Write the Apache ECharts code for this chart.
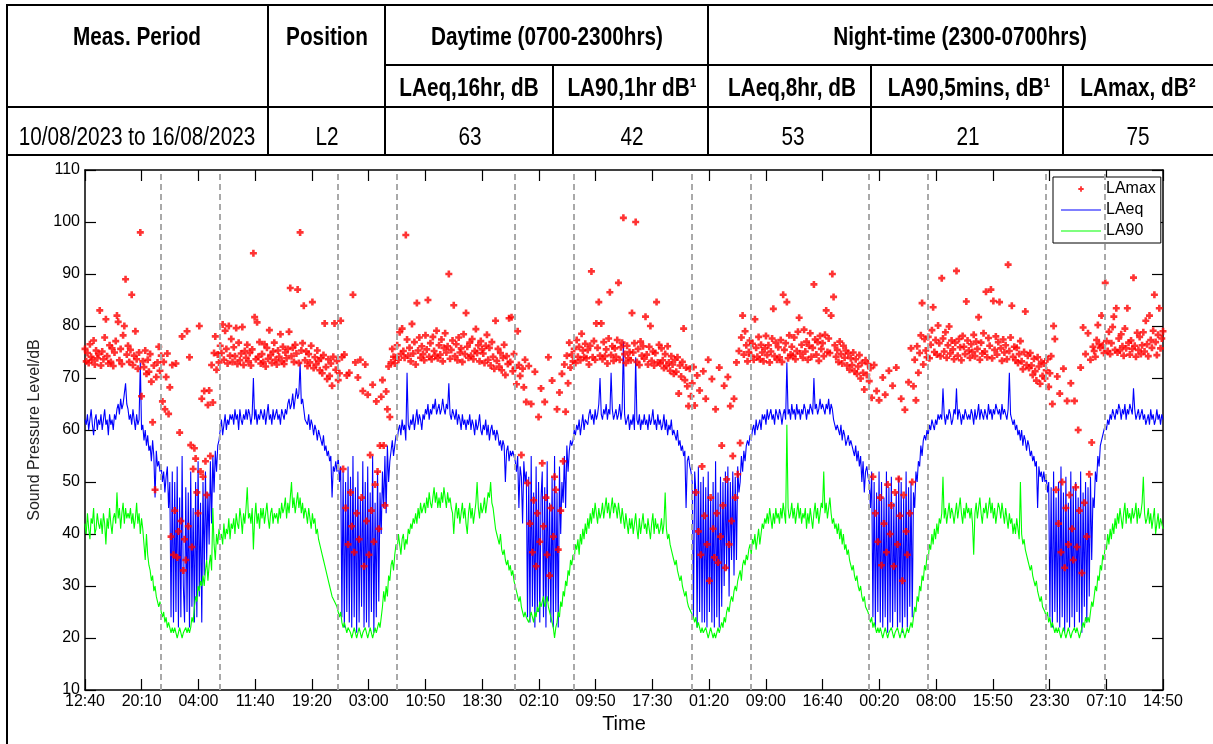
<!DOCTYPE html>
<html><head><meta charset="utf-8">
<script src="https://cdn.jsdelivr.net/npm/echarts@6.0.0/dist/echarts.min.js"></script>
<style>
html,body{margin:0;padding:0;background:#fff;width:1213px;height:744px;overflow:hidden;}
#wrap{position:relative;width:1213px;height:744px;}
#chart{position:absolute;left:0;top:0;width:1213px;height:744px;}
.ln{position:absolute;background:#000;}
.tx{position:absolute;white-space:nowrap;font-family:"Liberation Sans",Arial,sans-serif;font-size:25px;color:#000;transform:translate(-50%,-50%) scaleX(0.83);line-height:1;}
.b{font-weight:bold;}
</style></head><body>
<div id="wrap">
<div id="chart"></div>
<div class="ln" style="left:6px;top:4px;width:1207px;height:2px"></div>
<div class="ln" style="left:385px;top:64px;width:828px;height:2px"></div>
<div class="ln" style="left:6px;top:106px;width:1207px;height:2px"></div>
<div class="ln" style="left:6px;top:154px;width:1207px;height:2px"></div>
<div class="ln" style="left:6px;top:4px;width:2px;height:740px"></div>
<div class="ln" style="left:267px;top:4px;width:2px;height:152px"></div>
<div class="ln" style="left:384px;top:4px;width:2px;height:152px"></div>
<div class="ln" style="left:552px;top:65px;width:2px;height:91px"></div>
<div class="ln" style="left:707px;top:4px;width:2px;height:152px"></div>
<div class="ln" style="left:870px;top:65px;width:2px;height:91px"></div>
<div class="ln" style="left:1062px;top:65px;width:2px;height:91px"></div>
<div class="tx b" style="left:137px;top:36px">Meas. Period</div>
<div class="tx b" style="left:327px;top:36px">Position</div>
<div class="tx b" style="left:547px;top:36px">Daytime (0700-2300hrs)</div>
<div class="tx b" style="left:960px;top:36px">Night-time (2300-0700hrs)</div>
<div class="tx b" style="left:469px;top:87px">LAeq,16hr, dB</div>
<div class="tx b" style="left:632px;top:87px">LA90,1hr dB¹</div>
<div class="tx b" style="left:792px;top:87px">LAeq,8hr, dB</div>
<div class="tx b" style="left:969px;top:87px">LA90,5mins, dB¹</div>
<div class="tx b" style="left:1138px;top:87px">LAmax, dB²</div>
<div class="tx" style="left:137px;top:136px">10/08/2023 to 16/08/2023</div>
<div class="tx" style="left:327px;top:136px">L2</div>
<div class="tx" style="left:470px;top:136px">63</div>
<div class="tx" style="left:632px;top:136px">42</div>
<div class="tx" style="left:793px;top:136px">53</div>
<div class="tx" style="left:968px;top:136px">21</div>
<div class="tx" style="left:1138px;top:136px">75</div>
</div>
<script>
// x tick labels (20 evenly spaced ticks from 12:40 10/08 to 14:50 16/08)
const xTickLabels = ['12:40','20:10','04:00','11:40','19:20','03:00','10:50','18:30','02:10','09:50','17:30','01:20','09:00','16:40','00:20','08:00','15:50','23:30','07:10','14:50'];
const SPAN_MIN = 8770;      // minutes from 12:40 10/08 to 14:50 16/08
const STEP_MIN = 10;        // sample step of the series below
// night period boundaries (23:00 and 07:00), minutes from start
const nightStartMin = [620,2060,3500,4940,6380,7820];
const nightEndMin = [1100,2540,3980,5420,6860,8300];

// LAeq, one row = 2 hours (12 x 10-minute values), first row starts 12:40 10/08
const laeqRows = [
[62,61,63,60,62,64,61,59,62,63,60,62],
[61,63,60,62,64,61,62,59,63,61,62,60],
[63,62,64,65,63,66,64,65,67,69,65,64],
[62,63,61,64,62,60,63,61,62,73,60,61],
[58,60,57,59,56,57,54,58,55,47,56,53],
[54,52,53,50,52,48,51,53,45,50,24,52],
[23,50,25,53,22,47,24,55,30,23,49,25],
[48,22,52,26,45,23,50,24,54,28,46,23],
[50,32,52,35,48,38,54,42,55,48,56,52],
[57,58,60,62,59,61,63,60,62,61,63,62],
[63,61,64,62,63,60,64,62,61,63,62,64],
[62,64,63,61,63,70,62,64,61,63,62,64],
[63,62,64,61,63,65,62,63,61,64,62,63],
[64,62,63,61,64,63,62,64,63,65,66,64],
[65,67,64,66,68,66,67,73,65,66,64,62],
[62,61,63,60,62,61,59,61,60,58,60,59],
[58,57,59,56,57,55,56,54,55,47,53,52],
[54,52,55,50,53,24,52,22,50,25,53,23],
[51,22,55,24,49,21,52,23,47,26,54,22],
[50,23,53,22,48,25,55,21,46,24,52,27],
[48,40,52,45,55,44,57,50,54,56,58,55],
[57,59,58,60,61,59,62,60,61,58,71,61],
[60,62,61,63,60,62,64,61,63,62,60,63],
[62,64,63,65,62,64,63,65,64,66,63,64],
[65,63,64,66,64,63,65,64,69,63,62,64],
[63,62,64,61,63,62,60,63,61,62,60,62],
[61,63,60,62,61,59,62,60,61,63,60,59],
[61,60,62,59,61,58,60,61,59,60,58,60],
[59,57,58,56,58,57,50,56,57,54,56,55],
[56,55,54,52,55,45,53,51,42,54,50,52],
[24,51,23,55,26,48,22,53,25,50,23,47],
[52,24,49,22,54,27,46,23,51,22,55,25],
[48,22,53,40,50,46,55,45,57,52,56,58],
[57,58,60,59,61,60,62,59,61,63,60,62],
[62,61,63,64,62,63,61,64,62,63,65,70],
[63,62,64,63,65,62,64,63,71,64,62,63],
[64,62,63,65,62,64,77,63,61,62,63,60],
[62,61,63,60,74,62,61,63,60,62,61,63],
[61,62,60,63,61,62,64,61,62,60,63,61],
[62,60,61,63,60,62,59,61,60,62,59,60],
[59,58,60,57,58,56,57,55,56,45,54,55],
[53,52,50,24,52,48,22,53,25,50,23,51],
[23,49,22,52,25,47,23,50,22,54,24,48],
[22,51,26,50,30,52,33,53,28,50,35,52],
[32,51,35,53,48,50,55,52,56,54,57,58],
[57,59,58,60,61,59,62,60,61,62,60,63],
[62,63,61,64,62,63,64,62,63,61,64,63],
[62,64,63,61,63,64,62,73,63,64,62,65],
[63,64,62,65,63,64,62,64,63,65,64,62],
[64,63,65,64,63,70,64,65,63,64,66,64],
[65,64,63,65,64,66,63,65,64,62,61,60],
[61,60,59,61,58,60,59,57,58,59,57,58],
[57,56,55,57,54,56,53,55,50,54,48,52],
[53,51,50,45,52,24,50,22,48,25,52,23],
[50,22,47,24,52,21,49,23,51,22,46,25],
[48,22,51,23,50,21,47,24,52,22,49,26],
[50,24,48,45,52,50,54,53,57,55,58,59],
[58,60,59,61,60,62,61,60,62,61,63,62],
[63,62,68,63,61,63,62,64,63,61,62,64],
[63,68,62,64,63,61,63,62,64,63,62,63],
[62,64,63,61,64,62,63,65,62,64,63,62],
[64,63,62,65,63,64,62,64,63,65,64,63],
[64,62,65,63,64,63,62,64,71,63,62,61],
[62,60,61,59,60,58,60,57,59,58,56,58],
[57,55,56,54,55,53,54,45,53,51,52,50],
[52,50,51,48,50,24,49,22,52,25,47,23],
[50,22,53,24,48,21,51,23,46,22,52,24],
[49,22,50,25,47,23,52,21,48,26,50,23],
[49,28,51,35,47,45,52,50,55,53,57,58],
[58,60,61,60,62,61,63,62,64,63,62,64],
[63,65,64,62,64,63,65,62,64,63,65,64],
[63,68,64,62,63,64,62,63,64,62,63,61],
[62,63,61,64,62,63,61,62,64,62,63,61],
[63,62]
];

// LA90, same layout
const la90Rows = [
[42,40,44,41,39,43,42,45,40,41,44,42],
[41,43,40,44,42,38,43,41,45,42,40,43],
[44,42,48,43,45,41,44,46,42,45,43,44],
[43,45,42,44,41,43,46,42,44,40,43,41],
[41,35,40,36,34,33,31,32,29,30,28,27],
[26,27,25,24,25,23,24,22,23,22,21,22],
[21,22,21,20,21,22,21,20,21,21,22,21],
[22,21,22,24,23,26,28,27,30,29,31,30],
[32,30,33,35,31,34,36,33,45,38,35,40],
[38,41,39,40,38,42,39,41,40,43,39,42],
[41,43,40,44,42,41,45,43,40,44,42,45],
[49,43,44,42,45,37,43,46,42,44,41,45],
[43,45,42,44,46,43,41,44,45,42,44,43],
[44,42,45,43,46,44,45,47,43,46,44,47],
[50,45,47,44,46,48,45,47,44,46,43,45],
[44,42,45,43,41,44,42,43,40,41,39,38],
[37,36,35,34,33,32,31,30,29,28,28,27],
[27,26,25,24,25,23,22,23,22,21,22,22],
[21,20,21,22,21,20,21,22,21,20,21,21],
[22,21,20,21,22,21,20,21,22,21,22,23],
[22,24,26,29,27,30,28,32,31,34,35,33],
[36,38,37,40,38,36,39,40,37,39,38,41],
[40,42,41,43,42,44,42,45,43,46,44,45],
[46,44,47,45,48,46,45,47,49,46,48,45],
[47,45,48,46,49,47,45,48,46,47,45,44],
[40,44,46,43,45,42,44,46,43,45,42,40],
[44,46,43,45,42,44,46,50,45,43,46,44],
[45,47,44,46,48,47,50,46,45,43,41,40],
[39,38,40,37,36,37,35,34,35,33,34,32],
[33,31,30,29,28,27,28,26,25,24,25,24],
[24,23,24,25,24,23,25,24,26,25,27,26],
[27,28,26,27,28,26,25,24,23,22,20,22],
[23,25,24,27,26,29,28,31,30,33,32,35],
[34,36,35,38,37,39,36,40,38,41,39,42],
[40,43,41,44,42,45,43,46,44,42,45,43],
[44,46,43,45,47,44,46,43,45,47,44,46],
[45,43,46,44,42,45,43,41,44,42,40,43],
[41,43,40,42,44,41,39,43,40,42,44,41],
[42,40,43,41,39,42,44,40,43,41,42,40],
[41,43,40,42,48,41,39,40,38,37,36,35],
[34,35,33,32,31,32,30,29,28,29,27,26],
[26,25,25,24,23,24,22,23,22,21,22,21],
[21,22,21,20,21,22,21,20,21,20,21,22],
[21,22,23,22,24,23,25,26,25,27,28,27],
[29,30,29,31,32,33,31,34,35,34,36,35],
[37,38,36,39,38,40,37,39,41,38,40,42],
[41,43,42,44,42,45,43,41,44,42,45,43],
[44,42,45,43,46,44,42,61,45,43,44,46],
[43,45,42,44,46,43,45,42,44,43,45,41],
[44,42,45,43,41,44,46,43,45,42,44,46],
[45,52,44,46,43,45,47,44,42,43,41,42],
[40,42,39,41,38,40,37,38,36,37,35,34],
[33,34,32,31,32,30,29,30,28,27,28,26],
[26,25,24,23,24,22,23,22,21,22,21,22],
[21,20,21,22,21,20,21,21,22,21,20,21],
[21,22,21,20,21,22,21,20,21,22,21,22],
[23,22,24,26,25,28,27,30,29,32,31,34],
[33,36,35,38,37,40,38,41,39,42,40,43],
[42,44,51,43,45,42,44,46,43,45,44,42],
[44,46,43,45,47,44,42,45,43,46,44,45],
[43,45,42,36,44,46,43,45,47,44,42,45],
[44,46,43,45,47,44,46,43,45,42,44,46],
[45,43,46,44,42,45,43,41,44,42,43,40],
[42,40,43,41,39,50,40,38,39,37,36,35],
[34,33,34,32,31,30,31,29,28,27,28,26],
[26,25,24,25,23,24,22,23,22,21,22,21],
[22,21,20,21,22,21,20,21,22,21,20,21],
[21,22,21,22,21,20,21,22,23,22,24,23],
[24,23,25,27,26,28,30,29,32,31,34,33],
[36,35,38,37,40,38,41,39,42,40,43,41],
[44,42,45,43,41,44,46,42,45,43,44,42],
[45,43,44,46,42,45,43,44,46,51,44,42],
[43,45,42,44,41,43,45,40,42,44,41,43],
[42,41]
];

// LAmax, same layout
const lamaxRows = [
[75.6,73.2,74.8,72.9,76.5,74.1,73.5,77.2,72.6,75.3,73.8,74.6],
[83.0,72.4,75.1,73.6,77.8,81.3,74.2,72.8,76.3,73.1,75.7,72.3],
[74.9,77.1,82.0,80.8,73.4,75.6,72.7,78.2,80.0,89.0,74.5,76.2],
[73.1,75.4,86.0,72.5,74.3,79.0,73.6,71.8,74.9,98.0,66.5,73.2],
[72.1,75.3,70.8,73.5,71.2,74.6,69.3,61.5,72.4,48.5,70.2,73.0],
[76.0,71.4,74.3,65.5,73.1,64.0,70.2,74.7,63.1,68.2,39.5,72.5],
[36.0,44.5,72.8,35.5,40.5,59.5,42.5,78.0,33.0,39.0,35.0,79.0],
[41.5,74.0,57.1,37.5,52.5,56.5,54.5,48.0,44.0,80.0,52.0,66.0],
[51.0,67.5,54.0,47.5,64.8,67.6,55.0,72.5,65.3,74.8,78.0,71.6],
[74.5,73.0,76.2,74.8,80.3,73.5,79.1,75.6,72.8,80.0,74.3,77.5],
[73.1,75.9,74.2,79.6,72.7,76.8,73.4,74.7,79.8,72.5,75.2,73.9],
[76.4,73.2,74.8,72.4,75.5,94.0,81.7,73.6,80.7,74.1,76.9,72.8],
[74.6,73.1,76.5,72.2,75.8,73.7,79.2,74.4,72.9,75.1,76.8,73.5],
[72.6,75.3,74.1,78.4,73.2,76.0,72.7,74.9,73.8,75.6,78.9,87.3],
[74.2,75.8,73.1,76.4,74.7,87.0,72.9,98.0,75.3,76.7,83.9,73.4],
[75.1,72.3,74.6,73.0,76.2,84.6,71.9,74.0,72.6,75.3,73.3,71.5],
[73.8,70.9,74.4,80.5,72.1,69.8,73.6,70.4,72.8,68.5,74.1,80.5],
[71.6,73.3,69.6,70.9,81.0,74.0,52.5,74.5,45.0,70.5,38.0,71.0],
[48.0,41.5,86.0,36.5,73.0,44.0,70.1,39.0,73.5,47.0,67.5,33.8],
[72.6,42.5,66.8,36.0,55.2,44.5,68.7,38.5,49.5,65.5,52.0,41.0],
[57.0,66.4,69.6,57.0,45.5,67.4,64.0,72.2,62.5,73.0,75.6,74.1],
[72.8,74.0,76.3,73.5,78.8,74.6,79.5,75.2,73.9,97.5,77.4,74.3],
[75.8,73.2,80.4,74.7,76.9,72.6,84.4,75.3,77.8,73.9,76.1,74.6],
[73.4,78.2,75.5,85.0,74.1,76.7,73.6,77.9,75.2,74.3,79.1,73.8],
[76.3,74.5,77.4,73.2,75.8,78.6,74.9,76.1,90.0,73.7,75.4,77.2],
[84.0,74.2,76.5,73.4,77.8,74.9,75.7,73.1,78.4,74.6,82.5,76.0],
[73.9,76.8,74.3,77.5,73.6,75.2,79.4,74.8,76.3,73.2,77.1,75.5],
[74.7,72.9,76.2,78.3,73.5,75.8,72.4,76.9,74.1,71.8,81.0,73.3],
[75.6,72.2,74.8,71.5,73.9,76.4,70.6,74.2,72.7,81.5,73.1,81.7],
[71.3,74.6,72.0,68.8,79.0,72.5,70.4,55.2,71.8,68.2,73.5,65.4],
[49.8,72.3,42.0,65.0,36.5,46.5,71.2,33.8,44.0,62.5,38.5,68.0],
[53.6,41.5,65.4,47.0,36.0,74.0,32.0,45.0,69.5,39.5,51.0,48.5],
[64.0,37.0,67.2,44.5,70.8,54.0,72.6,63.5,74.3,69.0,76.8,72.0],
[74.5,73.2,75.6,72.9,77.3,74.1,76.0,73.4,78.5,75.3,74.0,76.6],
[73.8,75.4,72.6,76.2,90.5,74.0,77.1,73.5,80.5,75.8,84.6,74.3],
[80.5,73.6,76.9,74.2,75.5,72.8,77.6,86.5,74.4,76.1,73.3,75.7],
[74.1,77.3,88.3,73.5,75.9,76.8,100.8,74.6,72.9,76.2,73.8,75.0],
[73.4,82.5,74.9,76.7,100.0,73.1,75.6,72.5,77.0,74.3,76.1,73.7],
[81.8,74.5,72.6,76.0,80.0,73.3,75.1,72.4,74.8,84.6,73.0,76.4],
[72.8,75.7,73.4,71.9,74.6,72.3,76.1,73.0,71.4,74.2,72.6,70.8],
[73.5,71.2,74.0,67.0,72.4,70.3,73.1,79.5,69.6,72.0,68.4,64.6],
[71.8,66.5,69.0,72.1,64.7,48.0,70.5,40.5,67.6,36.0,53.0,71.3],
[43.5,66.0,38.0,73.5,31.0,47.0,69.8,41.0,35.5,64.0,44.0,34.5],
[72.0,39.5,57.0,45.5,68.5,33.5,50.5,70.2,38.0,64.6,42.5,55.0],
[66.0,47.0,73.0,51.5,75.2,57.5,77.8,82.0,74.5,79.0,76.3,73.2],
[75.0,77.2,74.3,76.6,73.5,81.3,75.8,74.1,77.9,73.6,76.4,74.9],
[73.2,75.7,78.1,74.4,76.3,73.0,75.1,77.6,83.3,74.2,76.8,73.5],
[75.9,74.0,77.3,73.1,86.0,75.4,76.7,84.6,73.8,78.2,74.5,76.0],
[74.3,77.8,73.6,75.2,78.9,81.6,74.7,76.4,73.9,79.3,75.1,77.0],
[73.5,76.2,78.6,74.1,75.8,88.0,77.4,74.5,76.9,73.3,78.1,75.6],
[76.7,74.2,78.3,83.0,75.0,77.6,74.8,82.0,90.0,85.6,76.3,74.1],
[75.4,73.1,77.0,74.6,72.8,76.2,73.9,75.3,72.4,74.7,71.6,73.8],
[72.5,74.9,71.3,73.6,70.8,72.2,74.4,69.9,72.9,71.0,67.8,73.4],
[70.6,72.7,69.4,71.9,66.2,51.0,72.5,44.0,67.5,38.5,65.7,47.0],
[34.0,70.1,42.0,66.8,36.5,49.5,71.4,40.0,45.5,68.5,33.8,48.0],
[72.0,38.0,50.6,43.5,66.0,31.0,47.5,63.9,40.5,36.0,69.2,44.0],
[75.7,50.0,68.4,73.5,65.7,76.1,71.0,74.8,78.2,84.4,72.6,77.5],
[75.3,74.0,77.9,73.8,76.4,79.2,83.6,75.0,77.3,74.5,80.1,76.7],
[74.2,89.2,77.6,75.1,78.8,73.9,76.3,79.9,74.7,77.2,75.5,73.6],
[76.8,90.6,74.3,77.5,75.9,73.4,78.1,76.0,74.6,84.7,77.2,75.3],
[73.9,76.5,75.0,78.3,74.2,77.0,75.6,81.7,73.5,76.8,74.7,78.6],
[75.1,86.6,74.0,77.7,76.2,87.0,73.8,84.8,75.4,78.0,74.5,76.9],
[84.6,75.7,73.3,77.4,74.9,76.3,73.6,91.8,75.2,77.8,83.9,74.1],
[76.0,73.4,75.8,72.9,74.6,77.1,73.2,71.7,75.0,82.8,72.5,74.3],
[71.9,74.8,72.4,70.6,73.7,71.3,69.5,74.0,72.2,68.9,73.1,70.4],
[72.8,69.9,71.5,73.6,68.3,70.9,74.2,65.0,80.0,77.5,48.5,70.3],
[42.0,67.0,36.5,50.0,71.8,33.5,45.0,65.6,38.0,47.5,69.0,41.0],
[35.0,65.6,49.0,37.5,60.0,44.5,72.0,32.5,79.7,46.0,74.6,39.5],
[78.6,51.5,73.5,57.6,76.0,75.2,74.1,77.3,80.2,76.5,75.8,82.0],
[76.3,74.8,88.3,77.1,75.2,78.9,74.6,76.7,79.8,81.8,75.4,83.4],
[74.9,77.6,75.3,78.4,76.1,74.3,79.5,75.7,83.4,76.8,74.5,77.2],
[75.6,89.3,76.2,74.1,78.7,75.4,77.9,74.6,76.3,78.8,75.1,81.0],
[76.5,74.2,82.0,77.3,75.8,79.1,86.0,76.9,74.4,78.3,83.4,75.7],
[77.6,79.0]
];

function flatRows(rows, name) {
  const bad = [];
  rows.forEach((r, k) => { const want = k < rows.length - 1 ? 12 : 2; if (r.length !== want) bad.push(k + ':' + r.length); });
  if (bad.length) throw new Error(name + ' bad rows ' + bad.join(','));
  return rows.flat();
}
const laeq = flatRows(laeqRows, 'laeq');
const la90 = flatRows(la90Rows, 'la90');
const lamax = flatRows(lamaxRows, 'lamax');

const TICK = SPAN_MIN / 19;        // axis unit = one labelled tick step
const toX = m => m / TICK;
const pts = arr => arr.map((v, i) => [toX(i * STEP_MIN), v]);

const FONT = '"Liberation Sans", Arial, sans-serif';
const plusSym = 'path://M0,2.2H2.2V0H4.8V2.2H7V4.8H4.8V7H2.2V4.8H0Z';
const plusLegend = 'path://M0,0L0,0M40,10L40,10M17.3,4.1H19.1V2.3H20.9V4.1H22.7V5.9H20.9V7.7H19.1V5.9H17.3Z';
const lineLegend = 'path://M0,4.4H40V5.6H0Z';

const axisLineStyle = { color: '#000', width: 1.5 };
const chart = echarts.init(document.getElementById('chart'), null, { renderer: 'canvas' });
chart.setOption({
  animation: false,
  backgroundColor: 'transparent',
  textStyle: { fontFamily: FONT },
  grid: { left: 85, top: 170, width: 1078, height: 520, containLabel: false },
  legend: {
    orient: 'vertical', left: 1053, top: 177,
    itemWidth: 40, itemHeight: 10, itemGap: 5,
    padding: [4, 5, 4, 8],
    borderColor: '#000', borderWidth: 1, backgroundColor: '#fff',
    selectedMode: false,
    textStyle: { fontSize: 16, color: '#000', fontFamily: FONT },
    data: [
      { name: 'LAmax', icon: plusLegend },
      { name: 'LAeq', icon: lineLegend },
      { name: 'LA90', icon: lineLegend }
    ]
  },
  xAxis: [{
    type: 'value', min: 0, max: 19, interval: 1, position: 'bottom',
    axisLine: { show: true, onZero: false, lineStyle: axisLineStyle },
    axisTick: { show: true, inside: true, length: 11, lineStyle: { color: '#000', width: 1.2 } },
    axisLabel: { show: true, margin: 4, fontSize: 16, color: '#000', fontFamily: FONT, showMinLabel: true, showMaxLabel: true,
      formatter: v => xTickLabels[Math.round(v)] || '' },
    splitLine: { show: false },
    name: 'Time', nameLocation: 'middle', nameGap: 22,
    nameTextStyle: { fontSize: 20, color: '#000', fontFamily: FONT }
  }, {
    type: 'value', min: 0, max: 19, interval: 1, position: 'top',
    axisLine: { show: true, onZero: false, lineStyle: axisLineStyle },
    axisTick: { show: true, inside: true, length: 11, lineStyle: { color: '#000', width: 1.2 } },
    axisLabel: { show: false }, splitLine: { show: false }
  }],
  yAxis: [{
    type: 'value', min: 10, max: 110, interval: 10, position: 'left',
    axisLine: { show: true, onZero: false, lineStyle: axisLineStyle },
    axisTick: { show: true, inside: true, length: 11, lineStyle: { color: '#000', width: 1.2 } },
    axisLabel: { show: true, margin: 5, fontSize: 16, color: '#000', fontFamily: FONT },
    splitLine: { show: false },
    name: 'Sound Pressure Level/dB', nameLocation: 'middle', nameGap: 37,
    nameTextStyle: { fontSize: 16, color: '#222', fontFamily: FONT }
  }, {
    type: 'value', min: 10, max: 110, interval: 10, position: 'right',
    axisLine: { show: true, onZero: false, lineStyle: axisLineStyle },
    axisTick: { show: true, inside: true, length: 11, lineStyle: { color: '#000', width: 1.2 } },
    axisLabel: { show: false }, splitLine: { show: false }
  }],
  series: [
    {
      name: 'LAeq', type: 'line', data: pts(laeq), showSymbol: false, symbol: 'none',
      lineStyle: { color: '#0000ff', width: 1.1 }, itemStyle: { color: '#0000ff' }, z: 2, silent: true
    },
    {
      name: 'LA90', type: 'line', data: pts(la90), showSymbol: false, symbol: 'none',
      lineStyle: { color: '#00ff00', width: 1.1 }, itemStyle: { color: '#00ff00' }, z: 3, silent: true,
      markLine: {
        silent: true, symbol: ['none', 'none'], label: { show: false },
        lineStyle: { type: [6, 4], color: '#a9a9a9', width: 2 },
        data: nightStartMin.concat(nightEndMin).map(m => ({ xAxis: toX(m) }))
      }
    },
    {
      name: 'LAmax', type: 'scatter', data: pts(lamax), symbol: plusSym, symbolSize: 7,
      itemStyle: { color: '#ff0000' }, z: 4, silent: true
    }
  ]
});
</script>
</body></html>
